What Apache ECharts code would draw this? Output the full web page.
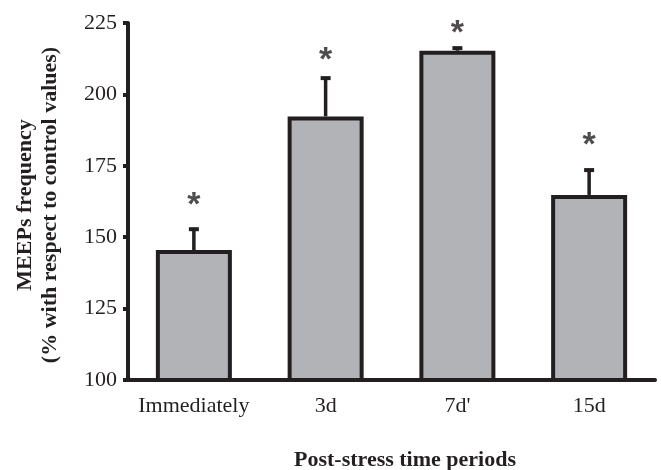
<!DOCTYPE html>
<html><head><meta charset="utf-8">
<script src="https://cdn.jsdelivr.net/npm/echarts@6/dist/echarts.min.js"></script>
<style>html,body{margin:0;padding:0;background:#fff}#c{width:661px;height:470px}</style>
</head><body><div id="c"></div>
<script>
var categories = ['Immediately', '3d', "7d'", '15d'];
var values = [145.5, 192.3, 215.3, 164.8];
var errorTops = [152.8, 205.7, 216.2, 173.5];
var starPositions = [164, 214.5, 224, 185];
var yTicks = [100, 125, 150, 175, 200, 225];

var ink = '#231f20';
var font = '"Liberation Serif", "Times New Roman", serif';
var chart = echarts.init(document.getElementById('c'));
chart.setOption({
  animation: false,
  grid: {left: 128, right: 6, top: 23, bottom: 90},
  xAxis: {
    type: 'category', data: categories,
    axisLine: {lineStyle: {color: ink, width: 4}},
    axisTick: {show: false},
    axisLabel: {color: ink, fontFamily: font, fontSize: 22, margin: 15, interval: 0}
  },
  yAxis: {
    type: 'value', min: yTicks[0], max: yTicks[yTicks.length - 1], interval: 25,
    axisLine: {show: true, lineStyle: {color: ink, width: 4}},
    axisTick: {show: true, length: 5, lineStyle: {color: ink, width: 4}},
    splitLine: {show: false},
    axisLabel: {color: ink, fontFamily: font, fontSize: 22, margin: 11}
  },
  graphic: [
    {type: 'text', x: 38, y: 205, rotation: Math.PI / 2,
     style: {text: 'MEEPs frequency\n(% with respect to control values)', fill: ink,
       font: 'bold 22px ' + font, align: 'center', verticalAlign: 'middle', lineHeight: 25}},
    {type: 'text', x: 405, y: 460,
     style: {text: 'Post-stress time periods', fill: ink,
       font: 'bold 22px ' + font, align: 'center', verticalAlign: 'middle'}}
  ],
  series: [
    {
      type: 'bar', data: values, barWidth: 76, z: 2,
      itemStyle: {color: '#b2b3b6', borderColor: ink, borderWidth: 4}
    },
    {
      type: 'custom', z: 1,
      data: categories.map(function (c, i) { return [i, values[i], errorTops[i]]; }),
      renderItem: function (params, api) {
        var base = api.coord([api.value(0), api.value(1)]);
        var top = api.coord([api.value(0), api.value(2)]);
        var x = base[0];
        return {type: 'group', children: [
          {type: 'line', shape: {x1: x, y1: base[1], x2: x, y2: top[1]}, style: {stroke: ink, lineWidth: 3.5}},
          {type: 'line', shape: {x1: x - 5, y1: top[1], x2: x + 5, y2: top[1]}, style: {stroke: ink, lineWidth: 4}}
        ]};
      }
    },
    {
      type: 'scatter', symbolSize: 0, z: 3,
      data: categories.map(function (c, i) { return [i, starPositions[i]]; }),
      label: {show: true, position: 'inside', formatter: '*', color: ink,
        fontFamily: '"Liberation Sans", Arial, sans-serif', fontWeight: 'bold', fontSize: 34, offset: [0, 8]}
    }
  ]
});
</script></body></html>
